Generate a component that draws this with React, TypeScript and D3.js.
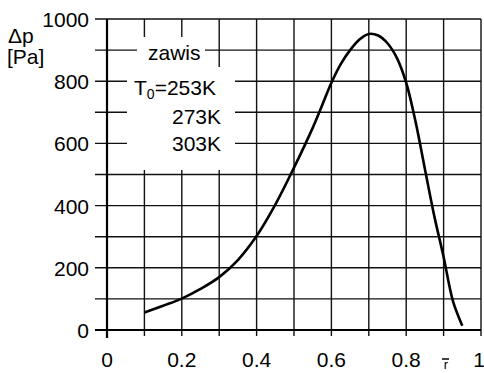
import React, { useRef, useEffect } from 'react';
import * as d3 from 'd3';

// curve
const rValues = [0.1, 0.15, 0.2, 0.25, 0.3, 0.35, 0.4, 0.45, 0.5, 0.55, 0.575, 0.6, 0.625, 0.65, 0.675, 0.7, 0.725, 0.75, 0.775, 0.8, 0.825, 0.85, 0.875, 0.9, 0.925, 0.95];
const dpValues = [56, 78, 101, 132, 170, 225, 302, 403, 522, 650, 722, 795, 855, 900, 934, 952, 947, 922, 875, 795, 670, 518, 367, 235, 93, 14];

const xTicks = [0, 0.2, 0.4, 0.6, 0.8, 1];
const xTickLabels = ['0', '0.2', '0.4', '0.6', '0.8', '1'];
const yTicks = [0, 200, 400, 600, 800, 1000];
const xGrid = [0, 0.1, 0.2, 0.3, 0.4, 0.5, 0.6, 0.7, 0.8, 0.9, 1];
const yGrid = [0, 100, 200, 300, 400, 500, 600, 700, 800, 900, 1000];

const font = "'Liberation Sans', Arial, sans-serif";
const fs = 21;

const App: React.FC = () => {
    const svgRef = useRef<SVGSVGElement | null>(null);

    useEffect(() => {
        if (!svgRef.current) return;
        const svg = d3.select(svgRef.current);
        svg.selectAll('*').remove();

        const x = d3.scaleLinear().domain([0, 1]).range([107, 481]);
        const y = d3.scaleLinear().domain([0, 1000]).range([330, 19]);

        // grid
        const grid = svg.append('g').attr('stroke', '#111').attr('stroke-width', 1.4);
        grid.selectAll('line.h')
            .data(yGrid)
            .enter()
            .append('line')
            .attr('x1', 95)
            .attr('x2', x(1))
            .attr('y1', (d) => y(d))
            .attr('y2', (d) => y(d));
        grid.selectAll('line.v')
            .data(xGrid)
            .enter()
            .append('line')
            .attr('x1', (d) => x(d))
            .attr('x2', (d) => x(d))
            .attr('y1', y(1000))
            .attr('y2', y(0) + 6);

        // axes heavier
        svg.append('line')
            .attr('x1', x(0)).attr('x2', x(0))
            .attr('y1', y(1000)).attr('y2', y(0) + 8)
            .attr('stroke', '#000').attr('stroke-width', 2.2);
        svg.append('line')
            .attr('x1', 95).attr('x2', x(1))
            .attr('y1', y(0)).attr('y2', y(0))
            .attr('stroke', '#000').attr('stroke-width', 2.2);

        // legend backgrounds
        svg.append('rect').attr('x', 137).attr('y', 37).attr('width', 68).attr('height', 30).attr('fill', '#fff');
        svg.append('rect').attr('x', 127).attr('y', 67).attr('width', 108).attr('height', 103).attr('fill', '#fff');

        // curve
        const line = d3
            .line<number>()
            .x((_, i) => x(rValues[i]))
            .y((d) => y(d))
            .curve(d3.curveCatmullRom);
        svg.append('path')
            .datum(dpValues)
            .attr('fill', 'none')
            .attr('stroke', '#000')
            .attr('stroke-width', 2.6)
            .attr('d', line);

        // tick labels
        svg.selectAll('text.yt')
            .data(yTicks)
            .enter()
            .append('text')
            .attr('x', 89)
            .attr('y', (d) => y(d) + 8)
            .attr('text-anchor', 'end')
            .attr('font-family', font)
            .attr('font-size', fs)
            .text((d) => String(d));
        svg.selectAll('text.xt')
            .data(xTicks)
            .enter()
            .append('text')
            .attr('x', (d) => (d === 1 ? 485 : x(d)))
            .attr('y', 367)
            .attr('text-anchor', (d) => (d === 1 ? 'end' : 'middle'))
            .attr('font-family', font)
            .attr('font-size', fs)
            .text((_, i) => xTickLabels[i]);

        // axis titles
        svg.append('text').attr('x', 8).attr('y', 43).attr('font-family', font).attr('font-size', fs).text('Δp');
        svg.append('text').attr('x', 7).attr('y', 64).attr('font-family', font).attr('font-size', fs).text('[Pa]');
        svg.append('text').attr('x', 446).attr('y', 369).attr('text-anchor', 'middle').attr('font-family', font).attr('font-size', 13).text('r');
        svg.append('line').attr('x1', 442).attr('x2', 449).attr('y1', 359).attr('y2', 359).attr('stroke', '#000').attr('stroke-width', 1.5);

        // legend text
        svg.append('text').attr('x', 148).attr('y', 60).attr('font-family', font).attr('font-size', fs).text('zawis');
        const t0 = svg.append('text').attr('x', 134).attr('y', 95).attr('font-family', font).attr('font-size', fs);
        t0.append('tspan').text('T');
        t0.append('tspan').attr('font-size', 14).attr('dy', 4).text('0');
        t0.append('tspan').attr('dy', -4).text('=253K');
        svg.append('text').attr('x', 221).attr('y', 124).attr('text-anchor', 'end').attr('font-family', font).attr('font-size', fs).text('273K');
        svg.append('text').attr('x', 221).attr('y', 151).attr('text-anchor', 'end').attr('font-family', font).attr('font-size', fs).text('303K');
    }, []);

    return (
        <div style={{ position: 'fixed', left: 0, top: 0 }}>
            <svg ref={svgRef} width={484} height={373} style={{ display: 'block', background: '#fff' }}></svg>
        </div>
    );
};

export default App;
